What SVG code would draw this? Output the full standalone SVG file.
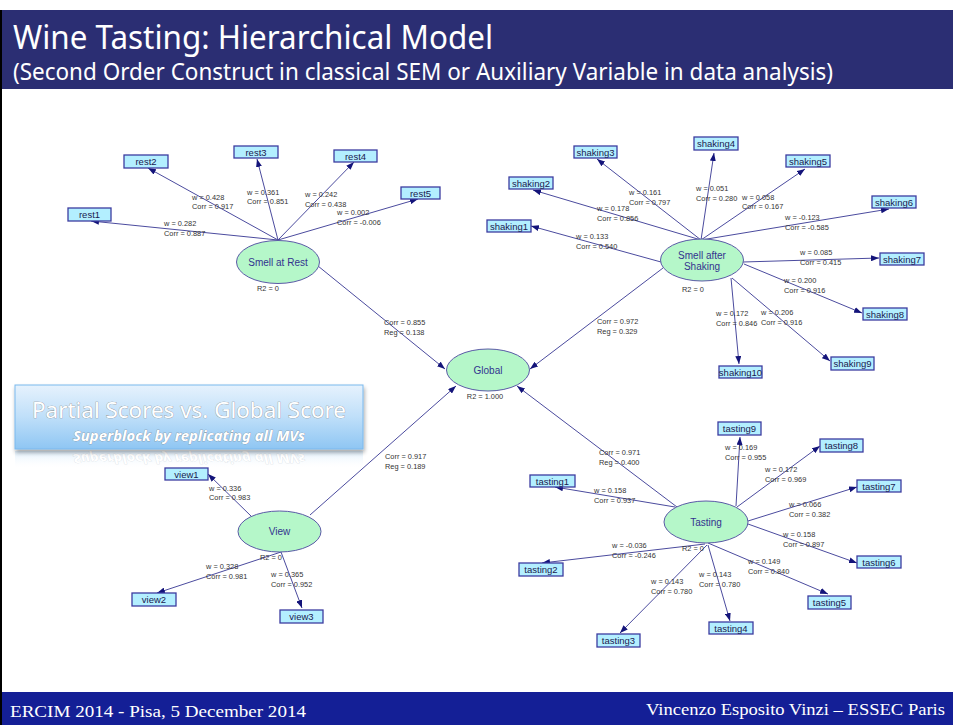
<svg xmlns="http://www.w3.org/2000/svg" width="953" height="725" viewBox="0 0 953 725">
  <style>
    .hdr { font-family: "Noto Sans", "DejaVu Sans", sans-serif; fill: #ffffff; }
    .lv { fill: #b5f7c9; stroke: #5a5aa6; stroke-width: 1; }
    .lvt { font-family: "Liberation Sans", Arial, sans-serif; font-size: 10px; fill: #33338f; text-anchor: middle; }
    .mv { fill: #b3efff; stroke: #3c3ca0; stroke-width: 1.3; }
    .mvt { font-family: "Liberation Sans", Arial, sans-serif; font-size: 9.5px; fill: #1a1a50; text-anchor: middle; }
    .lbl { font-family: "Liberation Sans", Arial, sans-serif; font-size: 7.4px; fill: #333333; }
    .r2 { font-family: "Liberation Sans", Arial, sans-serif; font-size: 7.4px; fill: #333333; text-anchor: middle; }
    .edge { stroke: #4b4b9e; stroke-width: 1; fill: none; marker-end: url(#arr); }
    .foot { font-family: "Liberation Serif", "Times New Roman", serif; font-size: 17px; fill: #ffffff; }
    .banner { font-family: "Noto Sans", "DejaVu Sans", sans-serif; text-anchor: middle; }
  </style>
  <defs>
    <marker id="arr" viewBox="0 0 8 6" refX="8" refY="3" markerWidth="8" markerHeight="6" markerUnits="userSpaceOnUse" orient="auto">
      <path d="M0,0 L8,3 L0,6 z" fill="#14147a"/>
    </marker>
    <linearGradient id="callout" x1="0" y1="0" x2="0" y2="1">
      <stop offset="0" stop-color="#e6f2fd"/>
      <stop offset="0.5" stop-color="#bfdff9"/>
      <stop offset="1" stop-color="#8fc6f3"/>
    </linearGradient>
    <linearGradient id="mirror" x1="0" y1="0" x2="0" y2="1">
      <stop offset="0" stop-color="#d6eafb" stop-opacity="0.8"/>
      <stop offset="1" stop-color="#ffffff" stop-opacity="0"/>
    </linearGradient>
    <clipPath id="mirrorClip">
      <rect x="10" y="451" width="360" height="16"/>
    </clipPath>
    <filter id="soft" x="-10%" y="-20%" width="120%" height="150%">
      <feGaussianBlur in="SourceAlpha" stdDeviation="2"/>
      <feOffset dx="1" dy="3"/>
      <feComponentTransfer><feFuncA type="linear" slope="0.35"/></feComponentTransfer>
      <feMerge><feMergeNode/><feMergeNode in="SourceGraphic"/></feMerge>
    </filter>
  </defs>

  <!-- slide background and frame -->
  <rect x="0" y="0" width="953" height="725" fill="#ffffff"/>
  <rect x="0" y="10" width="953" height="79" fill="#2b2e73"/>
  <rect x="0" y="692" width="953" height="33" fill="#141f96"/>
  <line x1="1" y1="10" x2="1" y2="725" stroke="#000000" stroke-width="2"/>

  <!-- header -->
  <text class="hdr" x="13" y="49" font-size="32" textLength="480" lengthAdjust="spacingAndGlyphs">Wine Tasting: Hierarchical Model</text>
  <text class="hdr" x="13" y="80" font-size="23" textLength="820" lengthAdjust="spacingAndGlyphs">(Second Order Construct in classical SEM or Auxiliary Variable in data analysis)</text>

  <!-- connectors -->
  <g id="connectors">
    <!-- Smell at Rest block -->
    <line class="edge" x1="278" y1="240" x2="91" y2="221"/>
    <line class="edge" x1="278" y1="240" x2="148" y2="168"/>
    <line class="edge" x1="278" y1="240" x2="257" y2="159"/>
    <line class="edge" x1="278" y1="240" x2="354" y2="162"/>
    <line class="edge" x1="278" y1="240" x2="418" y2="199"/>
    <!-- Smell after Shaking block -->
    <line class="edge" x1="661" y1="262" x2="531" y2="226"/>
    <line class="edge" x1="701" y1="240" x2="533" y2="190"/>
    <line class="edge" x1="701" y1="240" x2="597" y2="159"/>
    <line class="edge" x1="701" y1="240" x2="714" y2="153"/>
    <line class="edge" x1="701" y1="240" x2="805" y2="169"/>
    <line class="edge" x1="701" y1="240" x2="889" y2="209"/>
    <line class="edge" x1="743" y1="262" x2="879" y2="258"/>
    <line class="edge" x1="744" y1="264" x2="862" y2="313"/>
    <line class="edge" x1="732" y1="278" x2="830" y2="361"/>
    <line class="edge" x1="731" y1="278" x2="739" y2="364"/>
    <!-- View block -->
    <line class="edge" x1="251" y1="516" x2="208" y2="474"/>
    <line class="edge" x1="281" y1="552" x2="157" y2="593"/>
    <line class="edge" x1="281" y1="552" x2="302" y2="608"/>
    <!-- Tasting block -->
    <line class="edge" x1="675" y1="507" x2="555" y2="487"/>
    <line class="edge" x1="705" y1="544" x2="542" y2="563"/>
    <line class="edge" x1="707" y1="545" x2="620" y2="633"/>
    <line class="edge" x1="708" y1="545" x2="730" y2="621"/>
    <line class="edge" x1="708" y1="543" x2="828" y2="594"/>
    <line class="edge" x1="748" y1="524" x2="857" y2="563"/>
    <line class="edge" x1="748" y1="521" x2="857" y2="487"/>
    <line class="edge" x1="737" y1="507" x2="820" y2="446"/>
    <line class="edge" x1="736" y1="506" x2="740" y2="437"/>
    <!-- first order blocks to Global -->
    <line class="edge" x1="318" y1="266" x2="445" y2="369"/>
    <line class="edge" x1="663" y1="268" x2="530" y2="369"/>
    <line class="edge" x1="310" y1="515" x2="456" y2="386"/>
    <line class="edge" x1="677" y1="507" x2="517" y2="386"/>
  </g>

  <!-- path coefficient labels -->
  <g id="labels">
    <text class="lbl" x="164" y="226">w = 0.282</text><text class="lbl" x="164" y="236">Corr = 0.887</text>
    <text class="lbl" x="192" y="200">w = 0.428</text><text class="lbl" x="192" y="209">Corr = 0.917</text>
    <text class="lbl" x="247" y="195">w = 0.361</text><text class="lbl" x="247" y="204">Corr = 0.851</text>
    <text class="lbl" x="305" y="197">w = 0.242</text><text class="lbl" x="305" y="207">Corr = 0.438</text>
    <text class="lbl" x="337" y="215">w = 0.002</text><text class="lbl" x="337" y="225">Corr = -0.006</text>

    <text class="lbl" x="576" y="239">w = 0.133</text><text class="lbl" x="576" y="249">Corr = 0.540</text>
    <text class="lbl" x="597" y="211">w = 0.178</text><text class="lbl" x="597" y="221">Corr = 0.856</text>
    <text class="lbl" x="629" y="195">w = 0.161</text><text class="lbl" x="629" y="205">Corr = 0.797</text>
    <text class="lbl" x="696" y="191">w = 0.051</text><text class="lbl" x="696" y="201">Corr = 0.280</text>
    <text class="lbl" x="742" y="200">w = 0.058</text><text class="lbl" x="742" y="209">Corr = 0.167</text>
    <text class="lbl" x="785" y="220">w = -0.123</text><text class="lbl" x="785" y="230">Corr = -0.585</text>
    <text class="lbl" x="800" y="255">w = 0.085</text><text class="lbl" x="800" y="265">Corr = 0.415</text>
    <text class="lbl" x="784" y="283">w = 0.200</text><text class="lbl" x="784" y="293">Corr = 0.916</text>
    <text class="lbl" x="761" y="315">w = 0.206</text><text class="lbl" x="761" y="325">Corr = 0.916</text>
    <text class="lbl" x="716" y="316">w = 0.172</text><text class="lbl" x="716" y="326">Corr = 0.846</text>

    <text class="lbl" x="209" y="491">w = 0.336</text><text class="lbl" x="209" y="500">Corr = 0.983</text>
    <text class="lbl" x="206" y="569">w = 0.328</text><text class="lbl" x="206" y="579">Corr = 0.981</text>
    <text class="lbl" x="271" y="577">w = 0.365</text><text class="lbl" x="271" y="587">Corr = 0.952</text>

    <text class="lbl" x="594" y="493">w = 0.158</text><text class="lbl" x="594" y="503">Corr = 0.937</text>
    <text class="lbl" x="612" y="548">w = -0.036</text><text class="lbl" x="612" y="558">Corr = -0.246</text>
    <text class="lbl" x="651" y="584">w = 0.143</text><text class="lbl" x="651" y="594">Corr = 0.780</text>
    <text class="lbl" x="699" y="577">w = 0.143</text><text class="lbl" x="699" y="587">Corr = 0.780</text>
    <text class="lbl" x="748" y="564">w = 0.149</text><text class="lbl" x="748" y="574">Corr = 0.840</text>
    <text class="lbl" x="783" y="537">w = 0.158</text><text class="lbl" x="783" y="547">Corr = 0.897</text>
    <text class="lbl" x="789" y="507">w = 0.066</text><text class="lbl" x="789" y="517">Corr = 0.382</text>
    <text class="lbl" x="765" y="472">w = 0.172</text><text class="lbl" x="765" y="482">Corr = 0.969</text>
    <text class="lbl" x="725" y="450">w = 0.169</text><text class="lbl" x="725" y="460">Corr = 0.955</text>

    <text class="lbl" x="384" y="325">Corr = 0.855</text><text class="lbl" x="384" y="335">Reg = 0.138</text>
    <text class="lbl" x="597" y="324">Corr = 0.972</text><text class="lbl" x="597" y="334">Reg = 0.329</text>
    <text class="lbl" x="385" y="459">Corr = 0.917</text><text class="lbl" x="385" y="469">Reg = 0.189</text>
    <text class="lbl" x="599" y="455">Corr = 0.971</text><text class="lbl" x="599" y="465">Reg = 0.400</text>
  </g>

  <!-- latent variables -->
  <g id="smell-at-rest">
    <ellipse class="lv" cx="278" cy="262" rx="41.5" ry="21.5"/>
    <text class="lvt" x="278" y="265.5">Smell at Rest</text>
    <text class="r2" x="268" y="291">R2 = 0</text>
  </g>
  <g id="smell-after-shaking">
    <ellipse class="lv" cx="702" cy="260" rx="41.5" ry="21"/>
    <text class="lvt" x="702" y="259">Smell after</text>
    <text class="lvt" x="702" y="270">Shaking</text>
    <text class="r2" x="693" y="292">R2 = 0</text>
  </g>
  <g id="global">
    <ellipse class="lv" cx="488" cy="370" rx="41.5" ry="21"/>
    <text class="lvt" x="488" y="373.5">Global</text>
    <text class="r2" x="485" y="399">R2 = 1.000</text>
  </g>
  <g id="view">
    <ellipse class="lv" cx="279.5" cy="531.5" rx="41.5" ry="20.5"/>
    <text class="lvt" x="279.5" y="535">View</text>
    <text class="r2" x="271" y="560">R2 = 0</text>
  </g>
  <g id="tasting">
    <ellipse class="lv" cx="706" cy="522" rx="42" ry="21"/>
    <text class="lvt" x="706" y="525.5">Tasting</text>
    <text class="r2" x="693" y="551">R2 = 0</text>
  </g>

  <!-- manifest variables -->
  <g id="rest1"><rect class="mv" x="68" y="208" width="43" height="13"/><text class="mvt" x="89.5" y="218">rest1</text></g>
  <g id="rest2"><rect class="mv" x="124" y="155" width="44" height="13"/><text class="mvt" x="146" y="165">rest2</text></g>
  <g id="rest3"><rect class="mv" x="234" y="146" width="44" height="12"/><text class="mvt" x="256" y="155.5">rest3</text></g>
  <g id="rest4"><rect class="mv" x="334" y="150" width="43" height="12"/><text class="mvt" x="355.5" y="159.5">rest4</text></g>
  <g id="rest5"><rect class="mv" x="401" y="187" width="39" height="12"/><text class="mvt" x="420.5" y="196.5">rest5</text></g>

  <g id="shaking1"><rect class="mv" x="487" y="220" width="44" height="12"/><text class="mvt" x="509" y="229.5">shaking1</text></g>
  <g id="shaking2"><rect class="mv" x="509" y="177" width="44" height="12"/><text class="mvt" x="531" y="186.5">shaking2</text></g>
  <g id="shaking3"><rect class="mv" x="574" y="146" width="43" height="12"/><text class="mvt" x="595.5" y="155.5">shaking3</text></g>
  <g id="shaking4"><rect class="mv" x="694" y="137" width="44" height="13"/><text class="mvt" x="716" y="147">shaking4</text></g>
  <g id="shaking5"><rect class="mv" x="786" y="155" width="44" height="12"/><text class="mvt" x="808" y="164.5">shaking5</text></g>
  <g id="shaking6"><rect class="mv" x="872" y="196" width="44" height="12"/><text class="mvt" x="894" y="205.5">shaking6</text></g>
  <g id="shaking7"><rect class="mv" x="880" y="253" width="44" height="12"/><text class="mvt" x="902" y="262.5">shaking7</text></g>
  <g id="shaking8"><rect class="mv" x="863" y="308" width="44" height="12"/><text class="mvt" x="885" y="317.5">shaking8</text></g>
  <g id="shaking9"><rect class="mv" x="831" y="357" width="43" height="13"/><text class="mvt" x="852.5" y="367">shaking9</text></g>
  <g id="shaking10"><rect class="mv" x="719" y="366" width="43" height="12"/><text class="mvt" x="740.5" y="375.5">shaking10</text></g>

  <g id="view1"><rect class="mv" x="165" y="468" width="43" height="12"/><text class="mvt" x="186.5" y="477.5">view1</text></g>
  <g id="view2"><rect class="mv" x="132" y="593" width="44" height="13"/><text class="mvt" x="154" y="603">view2</text></g>
  <g id="view3"><rect class="mv" x="280" y="610" width="43" height="13"/><text class="mvt" x="301.5" y="620">view3</text></g>

  <g id="tasting1"><rect class="mv" x="530" y="475" width="45" height="12"/><text class="mvt" x="552.5" y="484.5">tasting1</text></g>
  <g id="tasting2"><rect class="mv" x="519" y="563" width="44" height="13"/><text class="mvt" x="541" y="573">tasting2</text></g>
  <g id="tasting3"><rect class="mv" x="597" y="634" width="43" height="13"/><text class="mvt" x="618.5" y="644">tasting3</text></g>
  <g id="tasting4"><rect class="mv" x="709" y="622" width="44" height="12"/><text class="mvt" x="731" y="631.5">tasting4</text></g>
  <g id="tasting5"><rect class="mv" x="808" y="596" width="43" height="13"/><text class="mvt" x="829.5" y="606">tasting5</text></g>
  <g id="tasting6"><rect class="mv" x="857" y="556" width="44" height="12"/><text class="mvt" x="879" y="565.5">tasting6</text></g>
  <g id="tasting7"><rect class="mv" x="857" y="480" width="44" height="12"/><text class="mvt" x="879" y="489.5">tasting7</text></g>
  <g id="tasting8"><rect class="mv" x="820" y="439" width="43" height="13"/><text class="mvt" x="841.5" y="449">tasting8</text></g>
  <g id="tasting9"><rect class="mv" x="718" y="422" width="43" height="13"/><text class="mvt" x="739.5" y="432">tasting9</text></g>

  <!-- callout banner -->
  <g id="callout-banner">
    <!-- faint mirrored reflection under the banner -->
    <g clip-path="url(#mirrorClip)">
      <rect x="15" y="451" width="348" height="18" fill="url(#mirror)"/>
      <text class="banner" transform="translate(0,807) scale(1,-0.8)" x="189" y="441" font-size="14.5" font-style="italic" font-weight="bold" fill="#ffffff" stroke="#d3d9e0" stroke-width="0.6" paint-order="stroke" textLength="232" lengthAdjust="spacingAndGlyphs">Superblock by replicating all MVs</text>
    </g>
    <rect x="15" y="385" width="348" height="64" fill="url(#callout)" stroke="#7ab9ee" stroke-width="1" filter="url(#soft)"/>
    <text class="banner" x="189" y="418" font-size="22" fill="#ffffff" textLength="314" lengthAdjust="spacingAndGlyphs" stroke="#8a8a8a" stroke-width="0.6" paint-order="stroke">Partial Scores vs. Global Score</text>
    <text class="banner" x="189" y="441" font-size="14.5" font-style="italic" font-weight="bold" fill="#ffffff" textLength="232" lengthAdjust="spacingAndGlyphs" stroke="#7a7a7a" stroke-width="0.5" paint-order="stroke">Superblock by replicating all MVs</text>
  </g>

  <!-- footer -->
  <text class="foot" x="10" y="717" textLength="296" lengthAdjust="spacingAndGlyphs">ERCIM 2014 - Pisa, 5 December 2014</text>
  <text class="foot" x="945" y="715" text-anchor="end" textLength="299" lengthAdjust="spacingAndGlyphs">Vincenzo Esposito Vinzi – ESSEC Paris</text>
</svg>
